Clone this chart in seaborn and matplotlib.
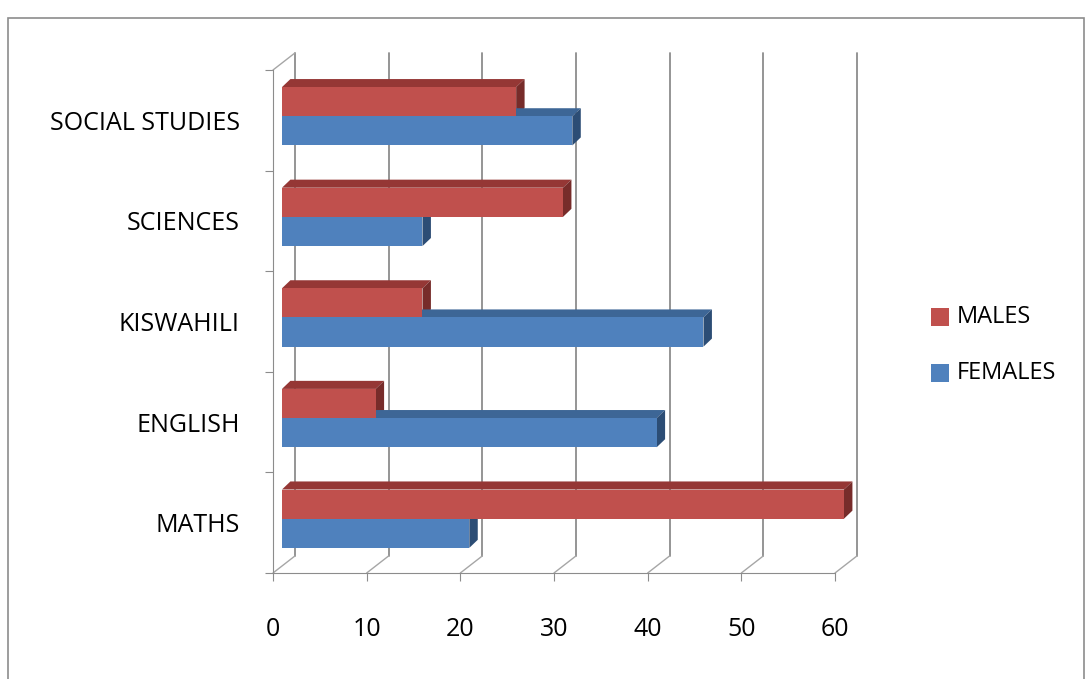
import matplotlib
matplotlib.use("Agg")
import matplotlib.pyplot as plt
from matplotlib.patches import Polygon, Rectangle
import seaborn as sns
import pandas as pd

subjects = ["SOCIAL STUDIES", "SCIENCES", "KISWAHILI", "ENGLISH", "MATHS"]
males = [25, 30, 15, 10, 60]
females = [31, 15, 45, 40, 20]
groups = ["MALES", "FEMALES"]
ticks = [0, 10, 20, 30, 40, 50, 60]

df = pd.DataFrame({
    "subject": subjects * 2,
    "value": males + females,
    "group": ["MALES"] * len(subjects) + ["FEMALES"] * len(subjects),
})

front = {"MALES": "#C0504D", "FEMALES": "#4F81BD"}
top = {"MALES": "#953735", "FEMALES": "#3D6696"}
side = {"MALES": "#772C2A", "FEMALES": "#2C4D75"}

sns.set_style("white")
plt.rcParams["font.family"] = ["Open Sans", "DejaVu Sans"]
plt.rcParams["text.color"] = "black"
plt.rcParams["xtick.labelcolor"] = "black"
plt.rcParams["ytick.labelcolor"] = "black"

fig = plt.figure(figsize=(10.87, 6.79), dpi=100)
ax = fig.add_axes([273 / 1087, 1 - 573 / 679, (835 - 273) / 1087, (573 - 70) / 679])

sns.barplot(data=df, y="subject", x="value", hue="group", order=subjects,
            hue_order=groups, palette=front, width=0.58, saturation=1,
            edgecolor="none", ax=ax, legend=False, zorder=3)

# bars sit on a mid-depth plane; front plane is shifted left/down
fx, fy = -0.96, 0.04      # front plane offset from bar plane
bx, by = 1.39, -0.13      # back wall offset from bar plane
ax.set_xlim(fx, 60 + fx)
ax.set_ylim(4.5 + fy, -0.5 + fy)

# pseudo-3d faces
dx, dy = 0.9, -0.08
for bar in list(ax.patches):
    bar.set_clip_on(False)
    w = bar.get_width()
    y0 = bar.get_y()
    h = bar.get_height()
    col = bar.get_facecolor()
    grp = "MALES" if col[0] > 0.6 else "FEMALES"
    ax.add_patch(Polygon([(0, y0), (dx, y0 + dy), (w + dx, y0 + dy), (w, y0)],
                         closed=True, facecolor=top[grp], edgecolor="none",
                         zorder=2, clip_on=False))
    ax.add_patch(Polygon([(w, y0), (w + dx, y0 + dy), (w + dx, y0 + h + dy), (w, y0 + h)],
                         closed=True, facecolor=side[grp], edgecolor="none",
                         zorder=2, clip_on=False))

# back wall gridlines and floor diagonals
for t in ticks:
    ax.plot([t + bx, t + bx], [4.5 + by, -0.5 + by], color="#8C8C8C", lw=1.3,
            zorder=0.5, clip_on=False)
    ax.plot([t + fx, t + bx], [4.5 + fy, 4.5 + by], color="#A6A6A6", lw=1.0,
            zorder=0.5, clip_on=False)
ax.plot([fx, bx], [-0.5 + fy, -0.5 + by], color="#A6A6A6", lw=1.0, clip_on=False)

for s in ["top", "right"]:
    ax.spines[s].set_visible(False)
ax.spines["bottom"].set_color("#8C8C8C")
ax.spines["left"].set_color("#8C8C8C")

ax.set_xticks([t + fx for t in ticks])
ax.set_xticklabels([str(t) for t in ticks])
ax.set_yticks([k - 0.5 + fy for k in range(len(subjects) + 1)], minor=False)
ax.set_yticklabels([])
ax.set_yticks([k + fy for k in range(len(subjects))], minor=True)
ax.set_yticklabels(subjects, minor=True)
ax.tick_params(axis="y", which="major", length=6, color="#8C8C8C", left=True)
ax.tick_params(axis="y", which="minor", length=0, pad=24, labelsize=18)
ax.tick_params(axis="x", length=6, color="#8C8C8C", bottom=True, pad=26, labelsize=18)
ax.set_xlabel("")
ax.set_ylabel("")

for i, g in enumerate(groups):
    yc = 1 - (317 + i * 56) / 679
    fig.patches.append(Rectangle((931 / 1087, yc - 9 / 679), 18 / 1087, 18 / 679,
                                 transform=fig.transFigure, facecolor=front[g],
                                 edgecolor="none"))
    fig.text(957 / 1087, yc, g, color="black", fontsize=17, va="center")

fig.patches.append(Rectangle((8 / 1087, -0.01), 1076 / 1087, 1 - 18 / 679 + 0.01,
                             transform=fig.transFigure, fill=False,
                             edgecolor="#8C8C8C", lw=1.2))

fig.savefig("out.png", dpi=100)
